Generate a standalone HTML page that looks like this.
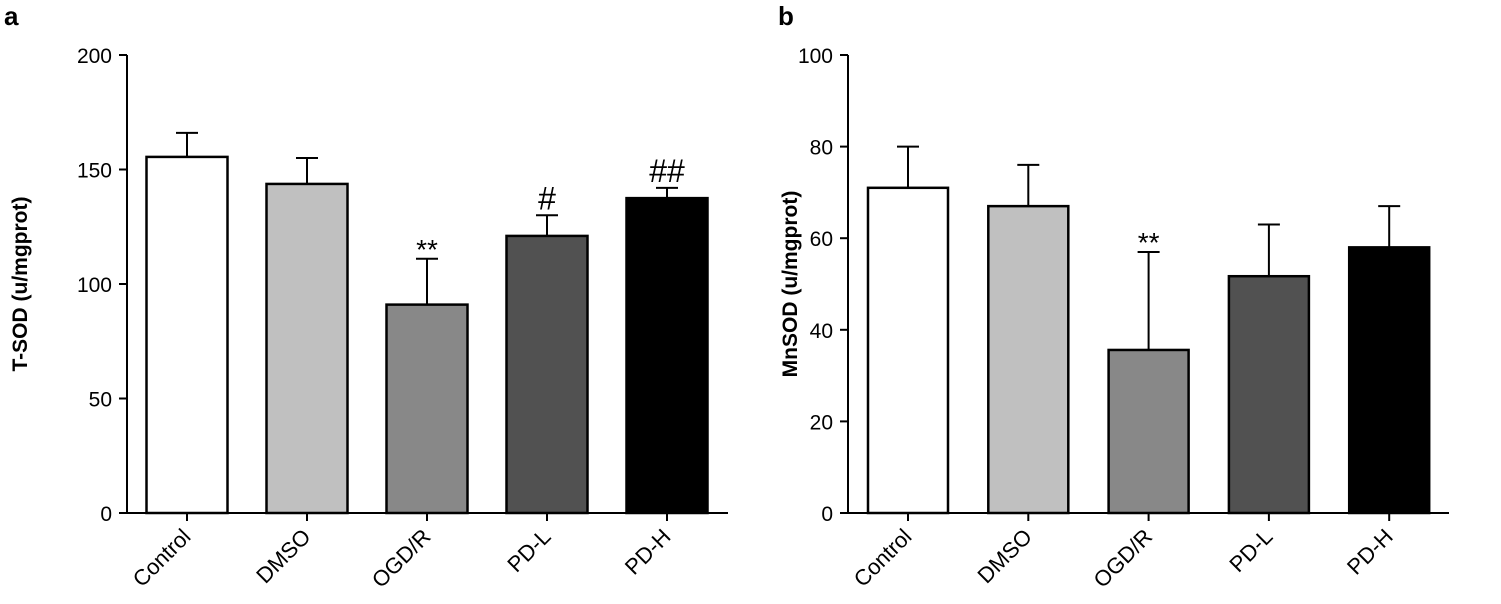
<!DOCTYPE html>
<html><head><meta charset="utf-8"><style>
html,body{margin:0;padding:0;background:#fff}
svg{display:block;font-family:"Liberation Sans",Arial,sans-serif}
</style></head><body>
<svg id="chart" width="1501" height="604" viewBox="0 0 1501 604"></svg>
<script>
const categories = ["Control","DMSO","OGD/R","PD-L","PD-H"];
const colors = ["#ffffff","#c0c0c0","#888888","#515151","#000000"];
const tsodValues = [155.5,143.7,91,121,137.5];
const tsodErrors = [10.5,11.3,20,9,4.5];
const tsodMarks = ["","","**","#","##"];
const tsodTicks = [0,50,100,150,200];
const mnsodValues = [71,67,35.6,51.7,58];
const mnsodErrors = [9,9,21.4,11.3,9];
const mnsodMarks = ["","","**","",""];
const mnsodTicks = [0,20,40,60,80,100];

const NS="http://www.w3.org/2000/svg";
const svg=document.getElementById('chart');
function mk(tag,attrs,parent,name){const e=document.createElementNS(NS,tag);for(const k in attrs)e.setAttribute(k,attrs[k]);


(parent||svg).appendChild(e);return e;}

function panel(cfg){
  const g=mk('g',{},svg,cfg.name);
  const y=v=>cfg.y0-(v/cfg.max)*(cfg.y0-cfg.y1);
  const x=i=>cfg.firstX+i*cfg.step;
  mk('line',{x1:cfg.ax,y1:cfg.y1,x2:cfg.ax,y2:cfg.y0,stroke:'#000','stroke-width':2},g,'y-axis-line');
  mk('line',{x1:cfg.ax,y1:cfg.y0,x2:cfg.xEnd,y2:cfg.y0,stroke:'#000','stroke-width':2},g,'x-axis-line');
  cfg.ticks.forEach(t=>{
    mk('line',{x1:cfg.ax-8,y1:y(t),x2:cfg.ax,y2:y(t),stroke:'#000','stroke-width':2},g,'y-tick');
    const tx=mk('text',{x:cfg.ax-15,y:y(t)+8,'text-anchor':'end','font-size':21,fill:'#000'},g,'y-tick-label');tx.textContent=t;
  });
  const yt=mk('text',{transform:`translate(${cfg.titleX},${(cfg.y0+cfg.y1)/2}) rotate(-90)`,'text-anchor':'middle','font-size':21,'font-weight':'bold'},g,'y-axis-title');yt.textContent=cfg.title;
  const pl=mk('text',{x:cfg.labelX,y:25,'font-size':26,'font-weight':'bold'},g,'panel-label');pl.textContent=cfg.label;
  categories.forEach((c,i)=>{
    const cx=x(i),top=y(cfg.values[i]),etop=y(cfg.values[i]+cfg.errors[i]);
    mk('line',{x1:cx,y1:etop,x2:cx,y2:top,stroke:'#000','stroke-width':2},g,'error-bar');
    mk('line',{x1:cx-11,y1:etop,x2:cx+11,y2:etop,stroke:'#000','stroke-width':2},g,'error-cap');
    mk('rect',{x:cx-cfg.bw/2,y:top,width:cfg.bw,height:cfg.y0-top,fill:colors[i],stroke:'#000','stroke-width':2.5},g,'bar-'+c.toLowerCase().replace('/',''));
    mk('line',{x1:cx,y1:cfg.y0,x2:cx,y2:cfg.y0+8,stroke:'#000','stroke-width':2},g,'x-tick');
    const lt=mk('text',{transform:`translate(${cx+5},${cfg.y0+25}) rotate(-45)`,'text-anchor':'end','font-size':22},g,'x-tick-label');lt.textContent=c;
    if(cfg.marks[i]){const star=cfg.marks[i][0]=='*';const m=mk('text',{x:cx,y:etop-(star?0:6),'text-anchor':'middle','font-size':star?28:32},g,'significance-mark');m.textContent=cfg.marks[i];}
  });
}
panel({name:'panel-a',label:'a',labelX:4,title:'T-SOD (u/mgprot)',titleX:27,ax:127,xEnd:728,y0:513,y1:55,max:200,firstX:187,step:120,bw:81,ticks:tsodTicks,values:tsodValues,errors:tsodErrors,marks:tsodMarks});
panel({name:'panel-b',label:'b',labelX:778,title:'MnSOD (u/mgprot)',titleX:797,ax:848,xEnd:1449,y0:513,y1:55,max:100,firstX:908,step:120.3,bw:80,ticks:mnsodTicks,values:mnsodValues,errors:mnsodErrors,marks:mnsodMarks});
</script>
</body></html>
